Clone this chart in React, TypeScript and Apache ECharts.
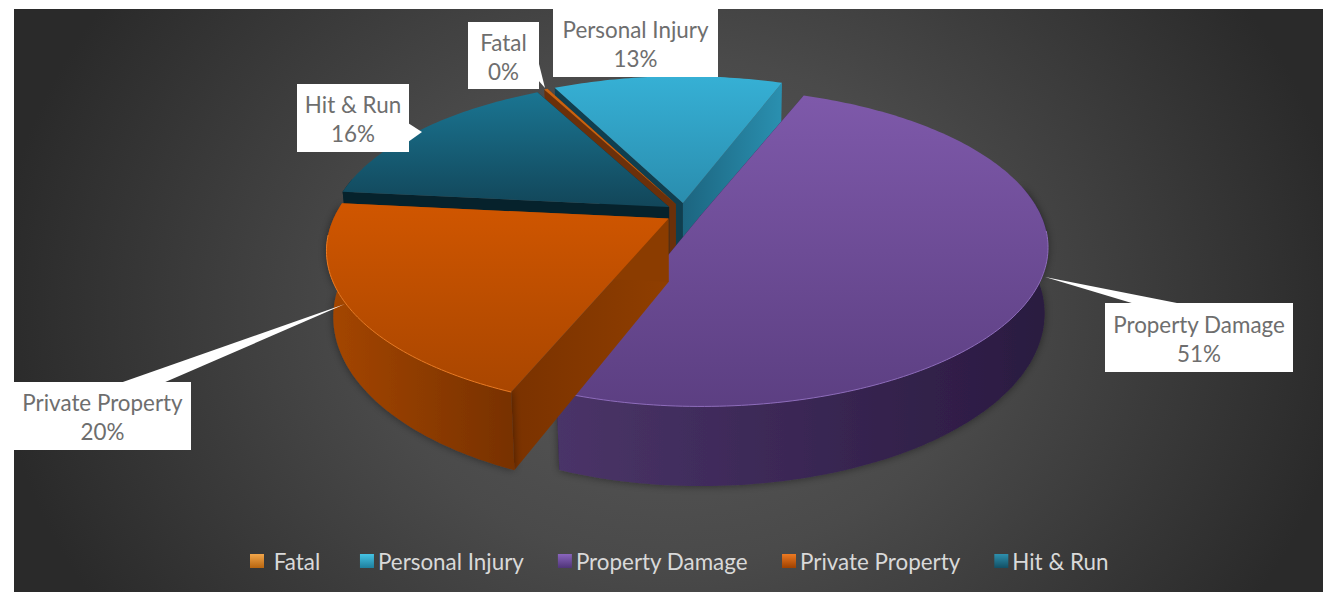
import React, { useEffect, useRef } from "react";
import * as echarts from "echarts";

const categories = ["Fatal", "Personal Injury", "Property Damage", "Private Property", "Hit & Run"];
const shares = [0.2, 13.1, 50.6, 20.4, 15.7];
const drawOrder = [1, 0, 4, 2, 3];

const legendColors = [
  ["#F2A64A", "#B8650F"],
  ["#45C3E4", "#1E7F9E"],
  ["#8A65BE", "#4F3478"],
  ["#EE7A22", "#9E4100"],
  ["#2E90AE", "#124F64"],
];
const topColors = [
  ["#C9620F", "#C9620F"],
  ["#36B0D5", "#2A8DAE"],
  ["#7E59AA", "#5C3F82"],
  ["#D05600", "#A94600"],
  ["#1A7592", "#124659"],
];
const arcColors = [
  ["#6B300A", "#6B300A"],
  ["#2A90B0", "#1E6A85"],
  ["#4A3468", "#2A1A40"],
  ["#A54600", "#773100"],
  ["#06222C", "#06222C"],
];
const startWall = [
  ["#6B300A", "#6B300A"],
  ["#0F3F50", "#0F3F50"],
  ["#2A1A40", "#2A1A40"],
  ["#7A3200", "#8F3E00"],
  ["#06222C", "#06222C"],
];
const endWall = [
  ["#6B300A", "#6B300A"],
  ["#1C6580", "#2A90B0"],
  ["#2A1A40", "#2A1A40"],
  ["#8B3C00", "#8B3C00"],
  ["#06222C", "#06222C"],
];
const rimColors = ["#C75F12", "#36B0D5", "#8E6CBC", "#EA7A22", "#1A7592"];
const angleTrim = [[0, 0], [0, 0], [0.8, -2], [0, 0], [0, 0]];
const extraDrop = [0, 0, 0, 2, 0];
const hasShadow = [false, false, true, true, false];

const CX = 684, CY = 212, EX = 18, EY = 9;
const RXL = 335, RXR = 340, RY = 152.5, P = 0.2026, DEPTH = 63.5, SXL = 0.98, SXR = 0.99;
const START = -27.6;

const total = shares.reduce((a, b) => a + b, 0);
const rad = (d: number) => (d * Math.PI) / 180;
const angles = shares.map((s, i) => {
  const from = START + (shares.slice(0, i).reduce((a, b) => a + b, 0) / total) * 360;
  return [from + angleTrim[i][0], from + (s / total) * 360 + angleTrim[i][1]];
});

function slicePolys(i: number) {
  const [a0, a1] = angles[i];
  const mid = rad((a0 + a1) / 2);
  const ax = CX + EX * Math.sin(mid);
  const ay = CY - EY * Math.cos(mid) + extraDrop[i];
  const topPt = (d: number) => {
    const u = Math.sin(rad(d)), v = Math.cos(rad(d)), w = 1 + P * v;
    return [ax + ((u < 0 ? RXL : RXR) * u) / w, ay - (RY * v) / w];
  };
  const botPt = (d: number) => {
    const u = Math.sin(rad(d)), v = Math.cos(rad(d)), w = 1 + P * v;
    return [ax + ((u < 0 ? SXL * RXL : SXR * RXR) * u) / w, ay - (RY * v) / w + DEPTH / w];
  };
  const steps = Math.max(2, Math.ceil(a1 - a0));
  const ds = Array.from({ length: steps + 1 }, (_, k) => a0 + ((a1 - a0) * k) / steps);
  const arcTop = ds.map(topPt);
  const apex = [ax, ay];
  const apexB = [ax, ay + DEPTH];
  const grad = (c: string[], vertical: boolean) =>
    new echarts.graphic.LinearGradient(0, 0, vertical ? 0 : 1, vertical ? 1 : 0, [
      { offset: 0, color: c[0] },
      { offset: 1, color: c[1] },
    ]);
  const poly = (points: number[][], fill: any, extra: any = {}) => ({
    type: "polygon",
    shape: { points },
    style: { fill, ...extra },
  });
  const frontDs = ds.filter((d) => Math.cos(rad(d)) < 0.2);
  const rim = ds.filter((d) => Math.cos(rad(d)) < -0.1).map(topPt);
  return [
    poly([apex, topPt(a0), botPt(a0), apexB], grad(startWall[i], false)),
    poly([apex, topPt(a1), botPt(a1), apexB], grad(endWall[i], false)),
    ...(frontDs.length > 1
      ? [
          poly(
            [...frontDs.map(topPt), ...frontDs.map(botPt).reverse()],
            grad(arcColors[i], false),
            hasShadow[i] ? { shadowBlur: 8, shadowColor: "rgba(0,0,0,0.45)" } : {}
          ),
        ]
      : []),
    poly([apex, ...arcTop], grad(topColors[i], true)),
    ...(rim.length > 1
      ? [{ type: "polyline", shape: { points: rim }, style: { fill: "none", stroke: rimColors[i], lineWidth: 1 } }]
      : []),
  ];
}

const labelBoxes = [
  { i: 0, x: 468, y: 22, w: 71, h: 67, leader: [[538, 60], [545, 88], [538, 80]] },
  { i: 1, x: 553, y: 9, w: 165, h: 68, leader: [] },
  { i: 2, x: 1105, y: 303, w: 188, h: 69, leader: [[1135, 304], [1045, 277], [1182, 304]] },
  { i: 3, x: 14, y: 382, w: 177, h: 68, leader: [[120, 383], [345, 304], [163, 383]] },
  { i: 4, x: 297, y: 84, w: 112, h: 68, leader: [[408, 123], [422, 132], [408, 142]] },
];
const FONT = "Lato";
const FONT_SIZE = 22.4;

export default function App() {
  const ref = useRef<HTMLDivElement>(null);
  useEffect(() => {
    document.body.style.margin = "0";
    const chart = echarts.init(ref.current!, undefined, { renderer: "svg" });
    chart.setOption({
      animation: false,
      backgroundColor: "transparent",
      legend: {
        left: 245,
        top: 545,
        itemWidth: 14,
        itemHeight: 14,
        itemGap: 34,
        icon: "rect",
        selectedMode: false,
        formatter: (n: string) => (n === "Fatal" ? "\u00a0Fatal\u00a0" : n),
        textStyle: { color: "#D9D9D9", fontFamily: FONT, fontSize: FONT_SIZE, padding: [0, 0, 0, -1] },
        data: categories.map((name, i) => ({
          name,
          itemStyle: {
            color: new echarts.graphic.LinearGradient(0, 0, 0, 1, [
              { offset: 0, color: legendColors[i][0] },
              { offset: 1, color: legendColors[i][1] },
            ]),
          },
        })),
      },
      series: drawOrder.map((i) => ({
        type: "custom",
        name: categories[i],
        coordinateSystem: "none",
        silent: true,
        itemStyle: { color: legendColors[i][0] },
        data: [[shares[i]]],
        renderItem: () => ({ type: "group", children: slicePolys(i) }),
      })),
      graphic: labelBoxes.flatMap((b) => [
        ...(b.leader.length
          ? [{ type: "polygon", z: 50, shape: { points: b.leader }, style: { fill: "#FFFFFF" } }]
          : []),
        { type: "rect", z: 51, shape: { x: b.x, y: b.y, width: b.w, height: b.h }, style: { fill: "#FFFFFF" } },
        {
          type: "text",
          z: 52,
          style: {
            x: b.x + b.w / 2,
            y: b.y + b.h / 2 + 1,
            text: `${categories[b.i]}\n${Math.round((shares[b.i] / total) * 100)}%`,
            align: "center",
            verticalAlign: "middle",
            font: `${FONT_SIZE}px ${FONT}`,
            lineHeight: 29,
            fill: "#6E6E6E",
          },
        },
      ]),
    });
    return () => chart.dispose();
  }, []);
  return (
    <div style={{ position: "absolute", left: 0, top: 0, width: 1323, height: 592, background: "#fff", overflow: "hidden" }}>
      <div
        style={{
          position: "absolute",
          left: 14,
          top: 9,
          width: 1309,
          height: 583,
          background: "radial-gradient(ellipse 680px 560px at 660px 300px, #5A5A5A 0%, #4A4A4A 45%, #2A2A2A 100%)",
        }}
      />
      <div ref={ref} style={{ position: "absolute", left: 0, top: 0, width: 1323, height: 592 }} />
    </div>
  );
}
